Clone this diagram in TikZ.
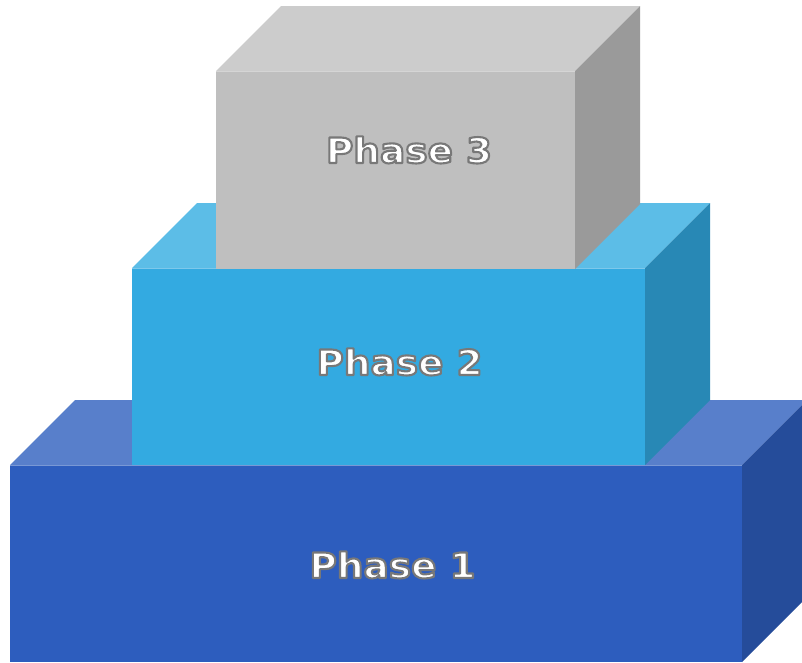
\documentclass[tikz,border=0pt]{standalone}
\usepackage{fontspec}
\newfontfamily\phasefont{DejaVu Sans Bold}[FakeStretch=1.07]
\usetikzlibrary{calc}
\definecolor{oneFront}{HTML}{2D5DBE}
\definecolor{oneTop}{HTML}{587FCB}
\definecolor{oneSide}{HTML}{254C9A}
\definecolor{twoFront}{HTML}{33AAE1}
\definecolor{twoTop}{HTML}{5CBDE7}
\definecolor{twoSide}{HTML}{2888B5}
\definecolor{thrFront}{HTML}{BFBFBF}
\definecolor{thrTop}{HTML}{CCCCCC}
\definecolor{thrSide}{HTML}{9A9A9A}
\newcommand{\outlinedtext}[1]{\special{pdf:literal 2 Tr 2.1 w 1 j 0.47 G}#1\special{pdf:literal 0 Tr}}
\newcommand{\slab}[7]{% x1 y1 x2 y2 front top side ; depth 65
  \fill[#5] (#1,#2) rectangle (#3,#4);
  \fill[#6] (#1,#2) -- ++(65,-65) -- ($(#3,#2)+(65,-65)$) -- (#3,#2) -- cycle;
  \fill[#7] (#3,#2) -- ++(65,-65) -- ($(#3,#4)+(65,-65)$) -- (#3,#4) -- cycle;
  \draw[white,opacity=0.35,line width=0.8] (#1,#2) -- (#3,#2);
}
\begin{document}
\begin{tikzpicture}[x=1pt,y=-1pt,
  labeltext/.style={font=\phasefont\fontsize{35}{40}\selectfont,anchor=base,inner sep=0pt,text=white}]
\useasboundingbox (0,0) rectangle (802,662);
\slab{10}{465}{742}{662}{oneFront}{oneTop}{oneSide}
\slab{132}{268}{645}{465}{twoFront}{twoTop}{twoSide}
\slab{216}{71}{575}{269}{thrFront}{thrTop}{thrSide}
\node[labeltext] (p3) at (409,163) {\outlinedtext{Phase 3}};
\node[labeltext] (p2) at (399.5,375) {\outlinedtext{Phase 2}};
\node[labeltext] (p1) at (392.5,578) {\outlinedtext{Phase 1}};
\end{tikzpicture}
\end{document}
